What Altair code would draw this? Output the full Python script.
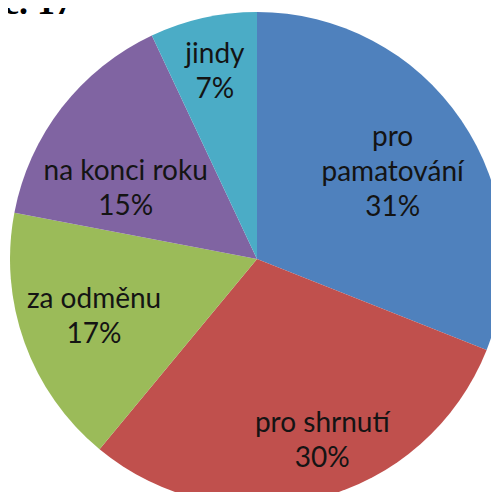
import altair as alt
import pandas as pd

categories = ["pro pamatování", "pro shrnutí", "za odměnu", "na konci roku", "jindy"]
label_text = ["pro\npamatování", "pro shrnutí", "za odměnu", "na konci roku", "jindy"]
values = [31, 30, 17, 15, 7]
colors = ["#4F81BD", "#C0504D", "#9BBB59", "#8064A2", "#4BACC6"]
title_text = "c. 17"

# label nudges (style), per slice: (dx, dy)
nudges = [(-5, -25), (23, 0), (-3, -17), (3, 17), (-5, -38)]

df = pd.DataFrame({
    "cat": categories,
    "value": values,
    "order": list(range(len(categories))),
    "label": [f"{t}\n{v}%" for t, v in zip(label_text, values)],
})

CX, CY, R = 249, 251, 247

base = (
    alt.Chart(df)
    .transform_window(cum="sum(value)", sort=[alt.SortField("order")], frame=[None, 0])
    .transform_calculate(start="datum.cum - datum.value", mid="datum.cum - datum.value / 2")
)

theta_scale = alt.Scale(domain=[0, 100])

pie = base.mark_arc(radius=R).encode(
    theta=alt.Theta("start:Q", scale=theta_scale, stack=None),
    theta2="cum:Q",
    color=alt.Color("cat:N", scale=alt.Scale(domain=categories, range=colors), legend=None),
    x=alt.value(CX),
    y=alt.value(CY),
)

layers = [pie]
for cat, (dx, dy) in zip(categories, nudges):
    layers.append(
        base.transform_filter(alt.datum.cat == cat)
        .mark_text(
            radius=170, dx=dx, dy=dy, font="Lato", fontSize=28, lineHeight=35,
            lineBreak="\n", color="#141414", align="center", baseline="middle",
        )
        .encode(
            theta=alt.Theta("mid:Q", scale=theta_scale, stack=None),
            text="label:N",
            x=alt.value(CX),
            y=alt.value(CY),
        )
    )

title = alt.Chart(pd.DataFrame({"t": [title_text]})).mark_text(
    font="Liberation Serif", fontWeight="bold", fontSize=36, align="left", baseline="alphabetic", color="#000000"
).encode(text="t:N", x=alt.value(-5), y=alt.value(5.5))
layers.append(title)

chart = (
    alt.layer(*layers)
    .properties(width=483, height=484, autosize=alt.AutoSizeParams(type="none"), padding=0)
    .configure_view(stroke=None)
)

chart.save("out.html", embed_options={"renderer": "svg", "actions": False})
